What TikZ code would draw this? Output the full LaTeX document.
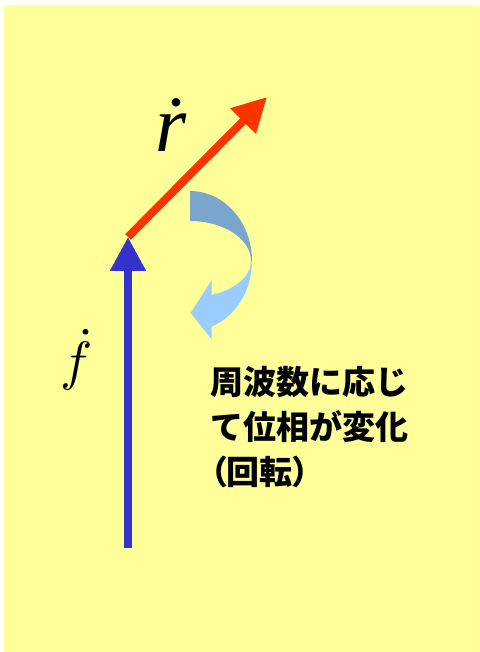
\documentclass[tikz,border=0pt]{standalone}
\usepackage{fontspec}
\usepackage{graphicx}
\usetikzlibrary{arrows.meta}
\newfontfamily\jpfont{Noto Sans CJK JP}
\newfontfamily\jppfont[RawFeature=+palt]{Noto Sans CJK JP}
\newfontfamily\tnrfont{Liberation Serif}
\definecolor{bgyellow}{HTML}{FFFF99}
\definecolor{vecred}{HTML}{FF3300}
\definecolor{vecblue}{HTML}{3333CC}
\definecolor{rotdark}{HTML}{7AA6CE}
\definecolor{rotlight}{HTML}{99CCFF}
\tikzset{
  vector/.style={line width=8pt, -{Triangle[length=34pt,width=34pt]}},
  jptext/.style={anchor=base west, inner sep=0pt, font=\jpfont\bfseries\fontsize{33}{33}\selectfont},
}
\begin{document}
\begin{tikzpicture}[x=1pt,y=1pt]
\useasboundingbox (0,0) rectangle (479,652);
\fill[white] (0,0) rectangle (479,652);
\fill[bgyellow] (4,0) rectangle (479,647);
% rotation arrow
\fill[rotdark] (190,461) arc[start angle=90,end angle=0,x radius=62,y radius=70]
  -- (251,391) arc[start angle=0,end angle=90,x radius=61,y radius=40] -- cycle;
\fill[rotlight] (252,391) arc[start angle=0,end angle=-69.5,x radius=62,y radius=70]
  -- (211.7,312.7) -- (190.7,339) -- (211.7,372) -- (211.7,357)
  arc[start angle=-69.2,end angle=0,x radius=61,y radius=36.4] -- cycle;
% vectors
\coordinate (o) at (128,415);
\coordinate (fb) at (128,104);
\coordinate (rt) at (267,555);
\draw[vector, vecred] (o) -- (rt);
\draw[vector, vecblue] (fb) -- (o);
% labels
\node (rlab) at (171,527) {\tnrfont\itshape\fontsize{80}{80}\selectfont \.r};
\node (flab) at (77,292) {\scalebox{5.4}{$\dot{f}$}};
\node[jptext] (l1) at (210,257) {周波数に応じ};
\node[jptext] (l2) at (210,212) {て位相が変化};
\node[jptext, font=\jppfont\bfseries\fontsize{33}{33}\selectfont] (l3) at (210,167) {（回転）};
\end{tikzpicture}
\end{document}
